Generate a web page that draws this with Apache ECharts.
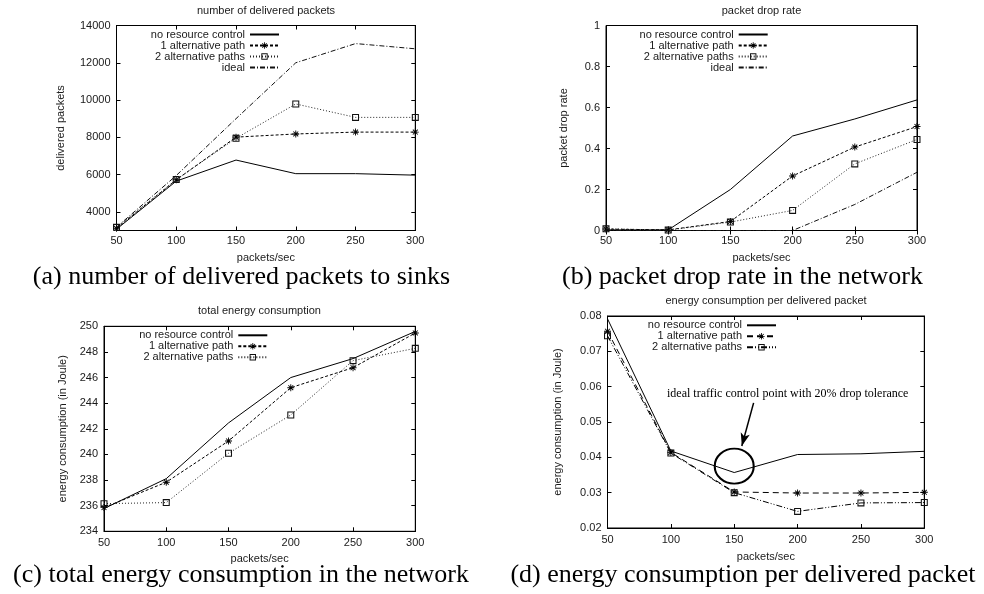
<!DOCTYPE html>
<html><head><meta charset="utf-8">
<script src="https://cdn.jsdelivr.net/npm/echarts@6/dist/echarts.min.js"></script>
<style>html,body{margin:0;padding:0;background:#fff}#c{width:984px;height:594px}</style>
</head><body><div id="c"></div>
<script>
// ---------- data ----------
const xValues = [50, 100, 150, 200, 250, 300];
const xTicks = [50, 100, 150, 200, 250, 300];
const legendNames = ['no resource control', '1 alternative path', '2 alternative paths', 'ideal'];

const delivered_noControl = [3070, 5650, 6780, 6050, 6050, 5970];
const delivered_alt1      = [3120, 5720, 8010, 8180, 8280, 8280];
const delivered_alt2      = [3170, 5730, 7950, 9790, 9070, 9070];
const delivered_ideal     = [3180, 5950, 9000, 12000, 13030, 12750];
const deliveredTicks = [4000, 6000, 8000, 10000, 12000, 14000];

const drop_noControl = [0.003, 0.003, 0.200, 0.461, 0.544, 0.637];
const drop_alt1      = [0.007, 0.003, 0.044, 0.266, 0.407, 0.507];
const drop_alt2      = [0.008, 0.002, 0.041, 0.098, 0.325, 0.444];
const drop_ideal     = [0, 0, 0, 0, 0.127, 0.284];

const energy_noControl = [235.77, 238.11, 242.46, 246.00, 247.48, 249.60];
const energy_alt1      = [235.85, 237.83, 241.05, 245.21, 246.77, 249.48];
const energy_alt2      = [236.16, 236.24, 240.09, 243.08, 247.32, 248.28];

const perPacket_noControl = [0.0792, 0.0418, 0.0357, 0.0408, 0.0410, 0.0417];
const perPacket_alt1      = [0.0757, 0.0414, 0.0302, 0.0299, 0.0299, 0.0301];
const perPacket_alt2      = [0.0744, 0.0412, 0.0300, 0.0247, 0.0271, 0.0272];

// annotation (data coordinates) in panel d
const annotCircle = [150, 0.0375];
const annotArrowFrom = [165.3, 0.0554];
const annotArrowTo = [156, 0.0432];
const annotTextAt = [192.2, 0.0579];
const annotText = 'ideal traffic control point with 20% drop tolerance';

// ---------- styles ----------
const SANS = 'Liberation Sans, Arial, sans-serif';
const SERIF = 'Liberation Serif, Times New Roman, serif';
const TXT = '#1a1a1a';
const ASTER = 'path://M-5,-0.65L5,-0.65L5,0.65L-5,0.65Z M-0.65,-5L0.65,-5L0.65,5L-0.65,5Z M-3.95,-3.05L-3.05,-3.95L3.95,3.05L3.05,3.95Z M-3.95,3.05L3.05,-3.95L3.95,-3.05L-3.05,3.95Z';
const SQUARE = 'path://M0,0H10V10H0Z M1.5,1.5V8.5H8.5V1.5Z';

const grids = [
  {left: 116.5, top: 25.5, width: 298.8, height: 205},
  {left: 606, top: 25.5, width: 311, height: 205},
  {left: 104, top: 326.3, width: 311.3, height: 205},
  {left: 607.5, top: 316, width: 316.8, height: 212}
];
const yCfg = [
  {min: 3000, max: 14000, custom: deliveredTicks, name: 'delivered packets', gap: 50},
  {min: 0, max: 1, interval: 0.2, name: 'packet drop rate', gap: 37},
  {min: 234, max: 250, interval: 2, name: 'energy consumption (in Joule)', gap: 36},
  {min: 0.02, max: 0.08, interval: 0.01, name: 'energy consumption (in Joule)', gap: 44}
];
const xLabelMargin = [5, 5, 6, 6];
const xNameGap = [22, 22, 22, 23];

const tickStyle = {show: true, inside: true, length: 4, lineStyle: {color: '#000', width: 1}};
const lineAx = {show: true, lineStyle: {color: '#000', width: 1}};
const labelFont = {fontSize: 11, fontFamily: SANS, color: TXT};

const xAxis = [], yAxis = [];
for (let side = 0; side < 2; side++) {
  for (let i = 0; i < 4; i++) {
    xAxis.push({
      type: 'value', gridIndex: i, min: 50, max: 300, interval: 50,
      position: side === 0 ? 'bottom' : 'top',
      axisLine: lineAx, axisTick: tickStyle, splitLine: {show: false},
      axisLabel: Object.assign({show: side === 0, margin: xLabelMargin[i]}, labelFont),
      name: side === 0 ? 'packets/sec' : '', nameLocation: 'middle', nameGap: xNameGap[i],
      nameTextStyle: labelFont
    });
    const c = yCfg[i];
    const ya = {
      type: 'value', gridIndex: i, min: c.min, max: c.max,
      position: side === 0 ? 'left' : 'right',
      axisLine: lineAx, axisTick: Object.assign({}, tickStyle), splitLine: {show: false},
      axisLabel: Object.assign({show: side === 0, margin: 6}, labelFont),
      name: side === 0 ? c.name : '', nameLocation: 'middle', nameGap: c.gap, nameRotate: 90,
      nameTextStyle: labelFont
    };
    if (c.interval) ya.interval = c.interval;
    if (c.custom) {
      ya.axisTick.customValues = c.custom;
      ya.axisLabel.customValues = c.custom;
      ya.axisLabel.formatter = v => String(Math.round(v));
    }
    yAxis.push(ya);
  }
}

const pairs = vals => xValues.map((x, k) => [x, vals[k]]);
const styles = {
  solid:  {lineStyle: {type: 'solid', width: 1, color: '#000'}, symbol: 'none'},
  dash:   {lineStyle: {type: [3, 2], width: 1, color: '#000'}, symbol: ASTER, symbolSize: 7,
           itemStyle: {color: '#000', borderWidth: 0}},
  dot:    {lineStyle: {type: [1, 2], width: 1, color: '#222'}, symbol: SQUARE, symbolSize: 7,
           itemStyle: {color: '#111', borderWidth: 0}},
  dashdot:{lineStyle: {type: [5, 2, 1, 2], width: 1, color: '#111'}, symbol: 'none'},
  ldash:  {lineStyle: {type: [6, 4], width: 1, color: '#000'}, symbol: ASTER, symbolSize: 7,
           itemStyle: {color: '#000', borderWidth: 0}},
  ddot:   {lineStyle: {type: [6, 2, 1, 2, 1, 2], width: 1, color: '#000'}, symbol: SQUARE, symbolSize: 7,
           itemStyle: {color: '#111', borderWidth: 0}}
};
const mk = (panel, nameIdx, vals, st, extra) => Object.assign({
  type: 'line', name: panel + ':' + legendNames[nameIdx], xAxisIndex: panel, yAxisIndex: panel,
  data: pairs(vals), showSymbol: true, animation: false, silent: true, emphasis: {disabled: true},
  z: 3 + nameIdx
}, JSON.parse(JSON.stringify(st)), extra || {});

const series = [
  mk(0, 0, delivered_noControl, styles.solid),
  mk(0, 1, delivered_alt1, styles.dash),
  mk(0, 2, delivered_alt2, styles.dot),
  mk(0, 3, delivered_ideal, styles.dashdot),
  mk(1, 0, drop_noControl, styles.solid),
  mk(1, 1, drop_alt1, styles.dash),
  mk(1, 2, drop_alt2, styles.dot),
  mk(1, 3, drop_ideal, styles.dashdot),
  mk(2, 0, energy_noControl, styles.solid),
  mk(2, 1, energy_alt1, styles.dash),
  mk(2, 2, energy_alt2, styles.dot),
  mk(3, 0, perPacket_noControl, styles.solid, {
    markPoint: {
      silent: true, animation: false,
      data: [
        {coord: annotCircle, symbol: 'circle', symbolSize: [39, 35],
         itemStyle: {color: 'rgba(0,0,0,0)', borderColor: '#000', borderWidth: 2}, label: {show: false}},
        {coord: annotTextAt, symbol: 'rect', symbolSize: 1, itemStyle: {color: 'rgba(0,0,0,0)'},
         label: {show: true, position: 'inside', formatter: annotText, fontFamily: SERIF, fontSize: 12, color: '#000'}}
      ]
    },
    markLine: {
      silent: true, animation: false, symbol: ['none', 'arrow'], symbolSize: [7, 13],
      lineStyle: {type: 'solid', color: '#000', width: 1.5}, label: {show: false},
      data: [[{coord: annotArrowFrom}, {coord: annotArrowTo}]]
    }
  }),
  mk(3, 1, perPacket_alt1, styles.ldash),
  mk(3, 2, perPacket_alt2, styles.ddot)
];

const legendPos = [
  {right: 704, top: 29, n: 4},
  {right: 215.3, top: 29, n: 4},
  {right: 715.7, top: 329.8, n: 3},
  {right: 207, top: 319.8, n: 3}
];
const noSymbolNames = ['no resource control', 'ideal'];
const legend = legendPos.map((p, i) => ({
  orient: 'vertical', align: 'right', right: p.right, top: p.top,
  itemWidth: 29, itemHeight: 8, itemGap: 0, padding: 0, selectedMode: false,
  data: legendNames.slice(0, p.n).map(n => noSymbolNames.includes(n)
    ? {name: i + ':' + n, itemStyle: {opacity: 0}}
    : {name: i + ':' + n}),
  formatter: name => name.replace(/^\d:/, ''),
  textStyle: {fontSize: 11, fontFamily: SANS, color: TXT, lineHeight: 11, padding: [0, 0, 0, 0]}
}));

const titles = [
  ['number of delivered packets', 266, 10.7],
  ['packet drop rate', 761.5, 10.7],
  ['total energy consumption', 259.5, 311],
  ['energy consumption per delivered packet', 766, 300.5]
];
const captions = [
  ['(a) number of delivered packets to sinks', 241.5, 277.5],
  ['(b) packet drop rate in the network', 742.5, 277.5],
  ['(c) total energy consumption in the network', 241, 575],
  ['(d) energy consumption per delivered packet', 743, 575]
];
const graphic = [];
titles.forEach(t => graphic.push({type: 'text', x: t[1], y: t[2], silent: true,
  style: {text: t[0], fontSize: 11, fontFamily: SANS, fill: TXT, align: 'center', verticalAlign: 'middle'}}));
captions.forEach(t => graphic.push({type: 'text', x: t[1], y: t[2], silent: true,
  style: {text: t[0], fontSize: 26, fontFamily: SERIF, fill: '#000', align: 'center', verticalAlign: 'middle'}}));

const chart = echarts.init(document.getElementById('c'), null, {renderer: 'canvas'});
chart.setOption({
  backgroundColor: '#fff',
  animation: false,
  grid: grids.map(g => Object.assign({show: true, borderColor: '#000', borderWidth: 1,
    backgroundColor: 'rgba(0,0,0,0)', containLabel: false, outerBoundsMode: 'none'}, g)),
  xAxis, yAxis, series, legend, graphic,
  tooltip: {show: false}
});
</script>
</body></html>
